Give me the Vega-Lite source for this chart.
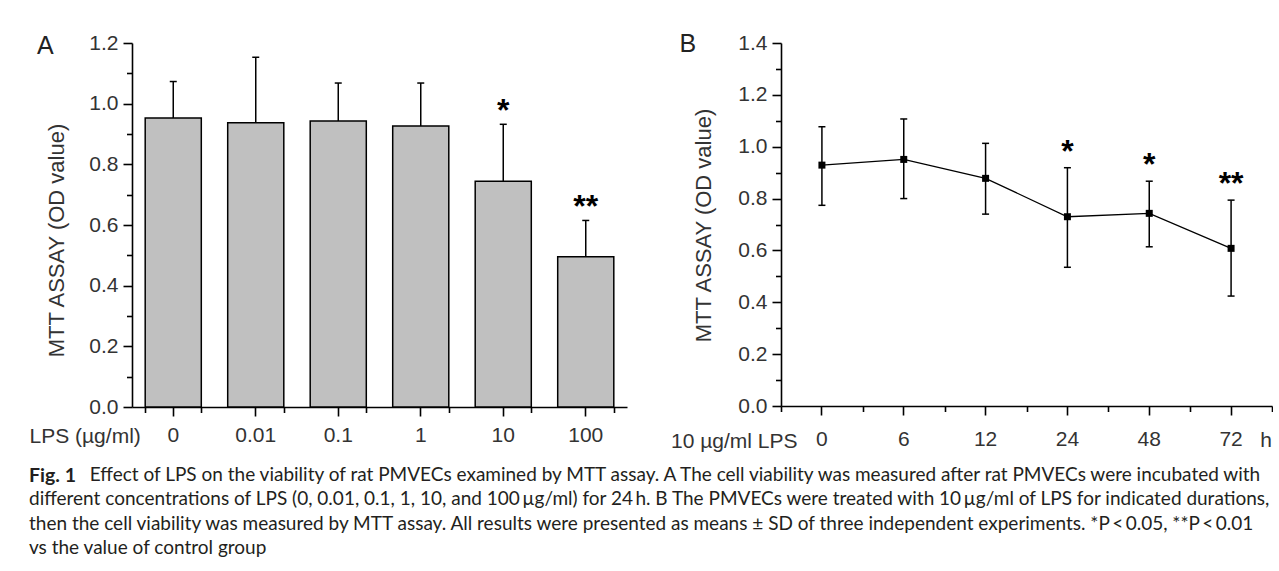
{
  "$schema": "https://vega.github.io/schema/vega-lite/v6.json",
  "background": "white",
  "padding": {"left": 29, "top": 32, "right": 0, "bottom": 10},
  "spacing": 43,
  "config": {
    "font": "Liberation Sans",
    "view": {"stroke": null},
    "axis": {
      "grid": false,
      "domainColor": "black",
      "domainWidth": 1.6,
      "tickColor": "black",
      "tickWidth": 1.6,
      "labelColor": "#333333",
      "labelFont": "Liberation Sans",
      "labelFontSize": 21,
      "titleFont": "Liberation Sans",
      "titleFontSize": 21,
      "titleFontWeight": "normal",
      "titleColor": "#333333"
    }
  },
  "title": {
    "text": "Fig. 1",
    "subtitle": [
      "\u200b\u00a0\u00a0\u00a0\u00a0\u00a0\u00a0\u00a0\u00a0\u00a0\u00a0\u00a0\u00a0\u2009Effect of LPS on the viability of rat PMVECs examined by MTT assay. A The cell viability was measured after rat PMVECs were incubated with",
      "different concentrations of LPS (0, 0.01, 0.1, 1, 10, and 100\u2009\u00b5g/ml) for 24\u2009h. B The PMVECs were treated with 10\u2009\u00b5g/ml of LPS for indicated durations,",
      "then the cell viability was measured by MTT assay. All results were presented as means \u00b1 SD of three independent experiments. *P\u2009<\u20090.05, **P\u2009<\u20090.01",
      "vs the value of control group"
    ],
    "orient": "bottom",
    "anchor": "start",
    "frame": "bounds",
    "offset": 16,
    "font": "Lato",
    "fontSize": 19.5,
    "fontWeight": "bold",
    "color": "#231f20",
    "lineHeight": 24.3,
    "subtitleFont": "Lato",
    "subtitleFontSize": 19,
    "subtitleFontWeight": "normal",
    "subtitleColor": "#231f20",
    "subtitleLineHeight": 24.3,
    "subtitlePadding": -20.5
  },
  "hconcat": [
    {
      "width": 495,
      "height": 364,
      "data": {"values": [
        {"lps": "0", "mean": 0.953, "upper": 1.073, "star": ""},
        {"lps": "0.01", "mean": 0.937, "upper": 1.153, "star": ""},
        {"lps": "0.1", "mean": 0.943, "upper": 1.068, "star": ""},
        {"lps": "1", "mean": 0.926, "upper": 1.068, "star": ""},
        {"lps": "10", "mean": 0.744, "upper": 0.932, "star": "*"},
        {"lps": "100", "mean": 0.495, "upper": 0.615, "star": "**"}
      ]},
      "resolve": {"axis": {"x": "independent", "y": "independent"}},
      "layer": [
        {
          "mark": {"type": "bar", "fill": "#c0c0c0", "stroke": "black", "strokeWidth": 1.5},
          "encoding": {
            "x": {"field": "lps", "type": "nominal", "sort": null,
              "scale": {"type": "band", "paddingInner": 0.32, "paddingOuter": 0.16},
              "axis": {"orient": "bottom", "title": "LPS (\u00b5g/ml)", "titleX": -103, "titleY": 29, "titleAlign": "left", "titleBaseline": "middle", "titleAngle": 0, "labelAngle": 0, "tickSize": 9, "labelPadding": 8}},
            "y": {"field": "mean", "type": "quantitative",
              "scale": {"domain": [0, 1.2], "nice": false},
              "axis": {"orient": "left", "values": [0, 0.2, 0.4, 0.6, 0.8, 1.0, 1.2], "format": ".1f", "tickSize": 9, "labelPadding": 5, "title": "MTT ASSAY (OD value)", "titleFontSize": 22, "titleX": -76, "titleY": 197, "titleAngle": 270, "titleAlign": "center", "titleBaseline": "middle"}}
          }
        },
        {
          "mark": {"type": "rule", "color": "black", "strokeWidth": 1.5},
          "encoding": {
            "x": {"field": "lps", "type": "nominal", "sort": null, "bandPosition": 0.5,
              "axis": {"orient": "bottom", "tickBand": "extent", "labels": false, "domain": false, "tickSize": 5.5, "title": null}},
            "y": {"field": "mean", "type": "quantitative",
              "axis": {"orient": "left", "values": [0.1, 0.3, 0.5, 0.7, 0.9, 1.1], "labels": false, "domain": false, "tickSize": 5.5, "title": null}},
            "y2": {"field": "upper"}
          }
        },
        {
          "mark": {"type": "tick", "color": "black", "size": 7, "thickness": 1.5, "opacity": 1},
          "encoding": {
            "x": {"field": "lps", "type": "nominal", "sort": null, "bandPosition": 0.5, "axis": null},
            "y": {"field": "upper", "type": "quantitative", "axis": null}
          }
        },
        {
          "transform": [{"filter": "datum.star != ''"}],
          "mark": {"type": "text", "font": "Liberation Sans", "fontSize": 32, "fontWeight": "bold", "color": "black", "baseline": "alphabetic", "dy": -3},
          "encoding": {
            "x": {"field": "lps", "type": "nominal", "sort": null, "bandPosition": 0.5, "axis": null},
            "y": {"field": "upper", "type": "quantitative", "axis": null},
            "text": {"field": "star"}
          }
        },
        {
          "data": {"values": [{"panel": "A"}]},
          "mark": {"type": "text", "font": "Liberation Sans", "fontSize": 25, "color": "#222222", "baseline": "middle", "align": "center", "dx": -128, "dy": 3},
          "encoding": {
            "x": {"datum": "0", "type": "nominal", "bandPosition": 0.5, "axis": null},
            "y": {"datum": 1.2, "type": "quantitative", "axis": null},
            "text": {"field": "panel"}
          }
        }
      ]
    },
    {
      "width": 491,
      "height": 363,
      "data": {"values": [
        {"time": "0", "mean": 0.929, "lo": 0.774, "hi": 1.077, "star": ""},
        {"time": "6", "mean": 0.951, "lo": 0.8, "hi": 1.107, "star": ""},
        {"time": "12", "mean": 0.878, "lo": 0.74, "hi": 1.013, "star": ""},
        {"time": "24", "mean": 0.73, "lo": 0.535, "hi": 0.919, "star": "*"},
        {"time": "48", "mean": 0.743, "lo": 0.614, "hi": 0.867, "star": "*"},
        {"time": "72", "mean": 0.608, "lo": 0.424, "hi": 0.794, "star": "**"}
      ]},
      "resolve": {"axis": {"x": "independent", "y": "independent"}},
      "layer": [
        {
          "mark": {"type": "line", "color": "black", "strokeWidth": 1.3},
          "encoding": {
            "x": {"field": "time", "type": "nominal", "sort": null, "bandPosition": 0.5,
              "scale": {"type": "band", "paddingInner": 0, "paddingOuter": 0},
              "axis": {"orient": "bottom", "title": "10 \u00b5g/ml LPS", "titleX": 16, "titleY": 35, "titleAlign": "right", "titleBaseline": "middle", "titleAngle": 0, "labelAngle": 0, "tickSize": 9, "labelPadding": 13}},
            "y": {"field": "mean", "type": "quantitative",
              "scale": {"domain": [0, 1.4], "nice": false},
              "axis": {"orient": "left", "values": [0, 0.2, 0.4, 0.6, 0.8, 1.0, 1.2, 1.4], "format": ".1f", "tickSize": 9, "labelPadding": 5, "title": "MTT ASSAY (OD value)", "titleFontSize": 22, "titleX": -78, "titleY": 182, "titleAngle": 270, "titleAlign": "center", "titleBaseline": "middle"}}
          }
        },
        {
          "mark": {"type": "rule", "color": "black", "strokeWidth": 1.5},
          "encoding": {
            "x": {"field": "time", "type": "nominal", "sort": null, "bandPosition": 0.5,
              "axis": {"orient": "bottom", "tickBand": "extent", "labels": false, "domain": false, "tickSize": 5.5, "title": null}},
            "y": {"field": "lo", "type": "quantitative",
              "axis": {"orient": "left", "values": [0.1, 0.3, 0.5, 0.7, 0.9, 1.1, 1.3], "labels": false, "domain": false, "tickSize": 5.5, "title": null}},
            "y2": {"field": "hi"}
          }
        },
        {
          "mark": {"type": "tick", "color": "black", "size": 7, "thickness": 1.5, "opacity": 1},
          "encoding": {
            "x": {"field": "time", "type": "nominal", "sort": null, "bandPosition": 0.5, "axis": null},
            "y": {"field": "lo", "type": "quantitative", "axis": null}
          }
        },
        {
          "mark": {"type": "tick", "color": "black", "size": 7, "thickness": 1.5, "opacity": 1},
          "encoding": {
            "x": {"field": "time", "type": "nominal", "sort": null, "bandPosition": 0.5, "axis": null},
            "y": {"field": "hi", "type": "quantitative", "axis": null}
          }
        },
        {
          "mark": {"type": "point", "shape": "square", "filled": true, "color": "black", "size": 49, "opacity": 1},
          "encoding": {
            "x": {"field": "time", "type": "nominal", "sort": null, "bandPosition": 0.5, "axis": null},
            "y": {"field": "mean", "type": "quantitative", "axis": null}
          }
        },
        {
          "transform": [{"filter": "datum.star != ''"}],
          "mark": {"type": "text", "font": "Liberation Sans", "fontSize": 32, "fontWeight": "bold", "color": "black", "baseline": "alphabetic", "dy": -6},
          "encoding": {
            "x": {"field": "time", "type": "nominal", "sort": null, "bandPosition": 0.5, "axis": null},
            "y": {"field": "hi", "type": "quantitative", "axis": null},
            "text": {"field": "star"}
          }
        },
        {
          "data": {"values": [{"unit": "h"}]},
          "mark": {"type": "text", "font": "Liberation Sans", "fontSize": 21, "color": "#333333", "baseline": "middle", "align": "center", "dx": 35, "dy": 35},
          "encoding": {
            "x": {"datum": "72", "type": "nominal", "bandPosition": 0.5, "axis": null},
            "y": {"datum": 0, "type": "quantitative", "axis": null},
            "text": {"field": "unit"}
          }
        },
        {
          "data": {"values": [{"panel": "B"}]},
          "mark": {"type": "text", "font": "Liberation Sans", "fontSize": 25, "color": "#222222", "baseline": "middle", "align": "center", "dx": -134, "dy": 1},
          "encoding": {
            "x": {"datum": "0", "type": "nominal", "bandPosition": 0.5, "axis": null},
            "y": {"datum": 1.4, "type": "quantitative", "axis": null},
            "text": {"field": "panel"}
          }
        }
      ]
    }
  ]
}
